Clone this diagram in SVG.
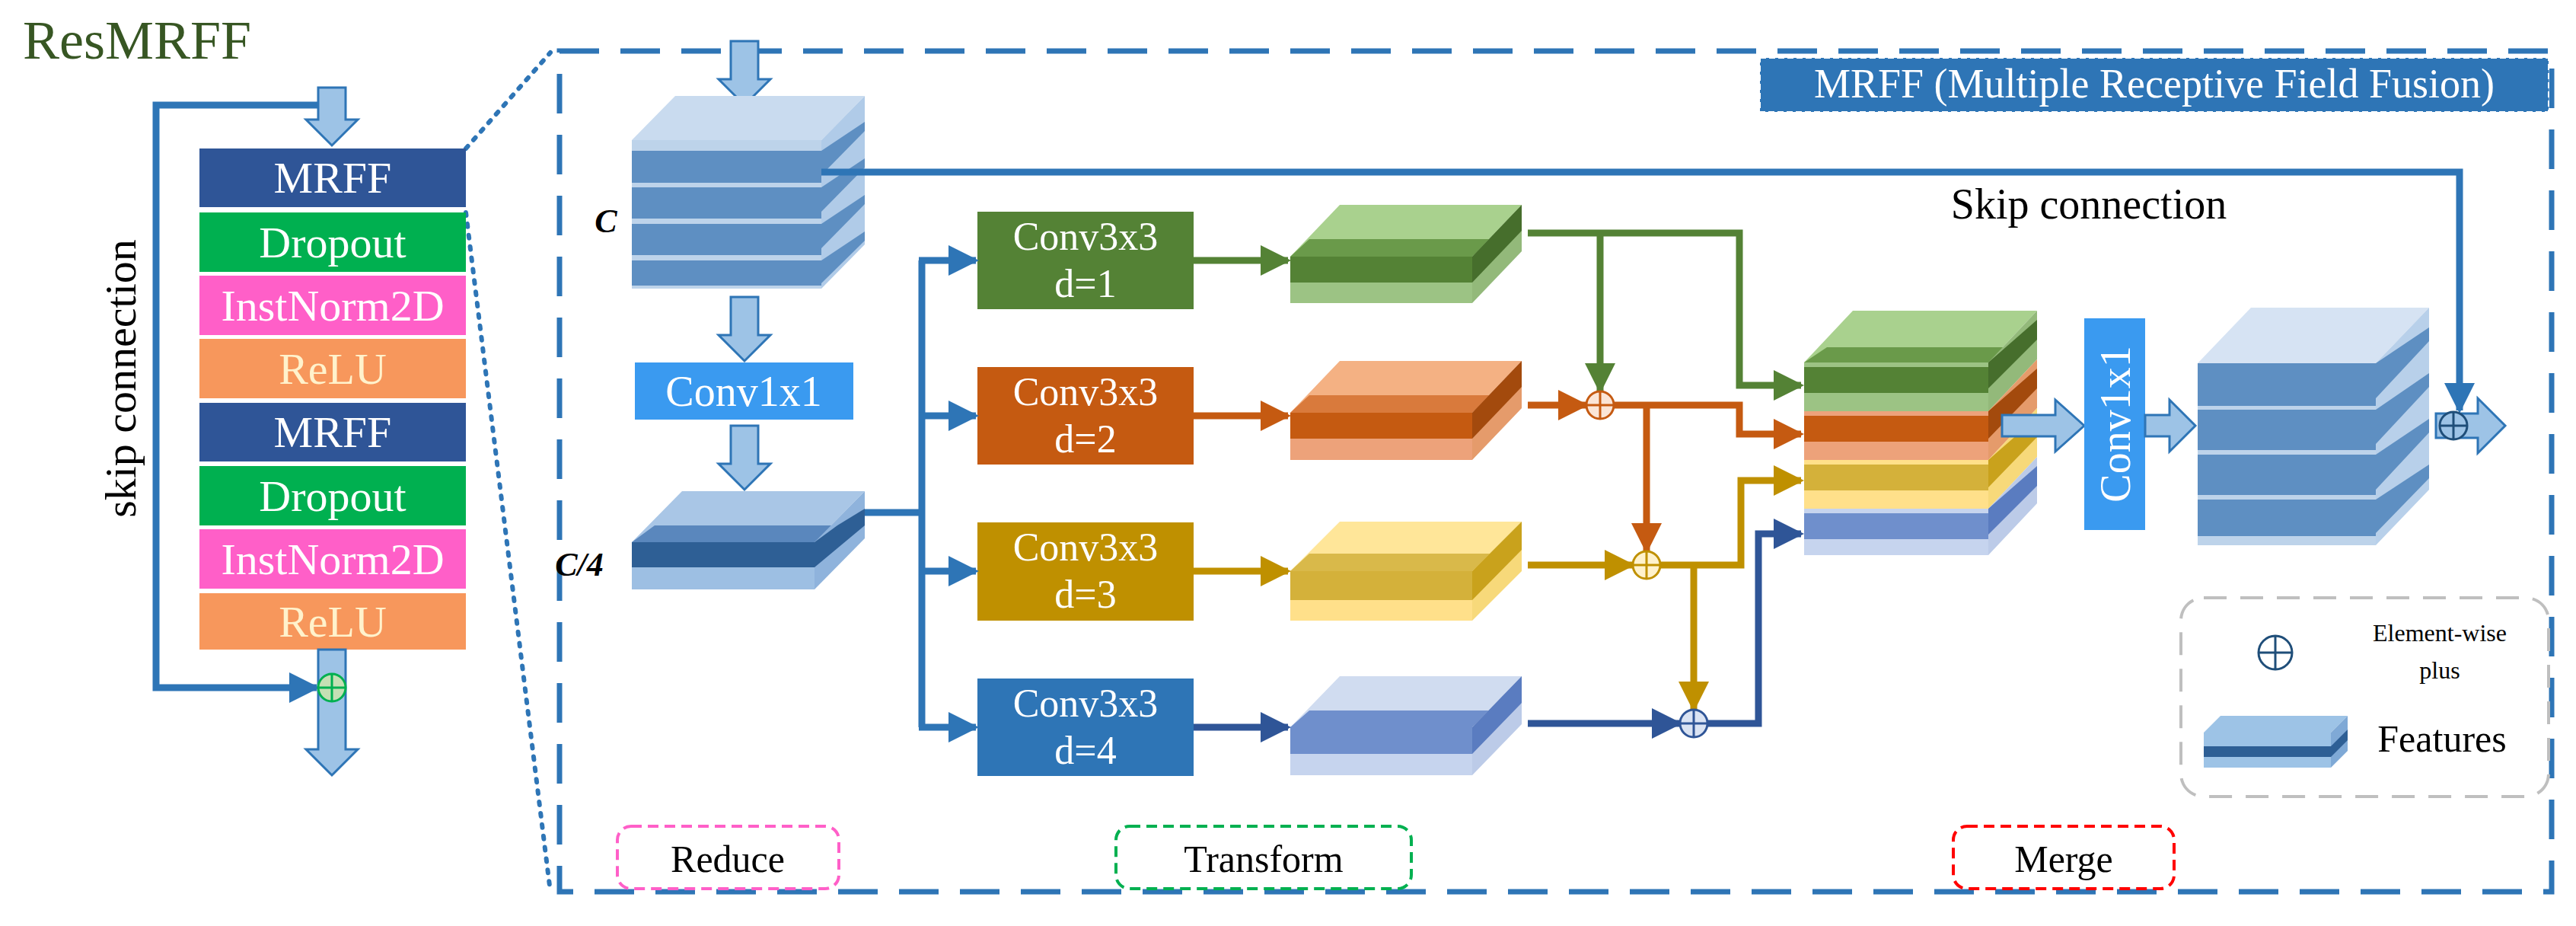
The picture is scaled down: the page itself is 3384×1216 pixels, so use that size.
<svg xmlns="http://www.w3.org/2000/svg" width="3384" height="1216" viewBox="0 0 3384 1216">
<style>
text{font-family:"Liberation Serif","Times New Roman",serif}
.w{fill:#fff;font-size:58px;text-anchor:middle}
.cw{fill:#fff;font-size:56px;text-anchor:middle}
.c3{fill:#fff;font-size:52px;text-anchor:middle}
.k{fill:#000;text-anchor:middle}
.ba{fill:#9dc3e6;stroke:#2e75b6;stroke-width:3;stroke-linejoin:miter}
.ln{fill:none;stroke-width:9;stroke-linejoin:miter}
</style>
<defs>
<marker id="mb" viewBox="0 0 10 10" refX="9" refY="5" markerWidth="4.5" markerHeight="5" markerUnits="strokeWidth" orient="auto"><path d="M0,0L10,5L0,10z" fill="#2e75b6"/></marker>
<marker id="mg" viewBox="0 0 10 10" refX="9" refY="5" markerWidth="4.5" markerHeight="5" markerUnits="strokeWidth" orient="auto"><path d="M0,0L10,5L0,10z" fill="#548235"/></marker>
<marker id="mo" viewBox="0 0 10 10" refX="9" refY="5" markerWidth="4.5" markerHeight="5" markerUnits="strokeWidth" orient="auto"><path d="M0,0L10,5L0,10z" fill="#c55a11"/></marker>
<marker id="my" viewBox="0 0 10 10" refX="9" refY="5" markerWidth="4.5" markerHeight="5" markerUnits="strokeWidth" orient="auto"><path d="M0,0L10,5L0,10z" fill="#bf9000"/></marker>
<marker id="mn" viewBox="0 0 10 10" refX="9" refY="5" markerWidth="4.5" markerHeight="5" markerUnits="strokeWidth" orient="auto"><path d="M0,0L10,5L0,10z" fill="#2f5597"/></marker>
</defs>
<rect width="3384" height="1216" fill="#fff"/>

<text x="30" y="77" style="font-size:72px;fill:#375623">ResMRFF</text>

<rect x="735" y="67" width="2617" height="1104" fill="none" stroke="#2e75b6" stroke-width="7" stroke-dasharray="52 28"/>
<path d="M612,195L723,69M612,279L723,1171" fill="none" stroke="#2e75b6" stroke-width="6" stroke-dasharray="4 11" stroke-linecap="round"/>

<g id="resmrff">
<rect x="262" y="195" width="350" height="77" fill="#2f5597"/><text class="w" x="437" y="253">MRFF</text>
<rect x="262" y="279" width="350" height="78" fill="#00b050"/><text class="w" x="437" y="338">Dropout</text>
<rect x="262" y="362" width="350" height="78" fill="#ff5fc8"/><text class="w" x="437" y="421">InstNorm2D</text>
<rect x="262" y="445" width="350" height="78" fill="#f7975c"/><text class="w" x="437" y="504" style="fill:#fff2cc">ReLU</text>
<rect x="262" y="529" width="350" height="77" fill="#2f5597"/><text class="w" x="437" y="587">MRFF</text>
<rect x="262" y="612" width="350" height="78" fill="#00b050"/><text class="w" x="437" y="671">Dropout</text>
<rect x="262" y="695" width="350" height="78" fill="#ff5fc8"/><text class="w" x="437" y="754">InstNorm2D</text>
<rect x="262" y="779" width="350" height="74" fill="#f7975c"/><text class="w" x="437" y="836" style="fill:#fff2cc">ReLU</text>
</g>
<path class="ba" d="M418,115H454V157H470L436,191L402,157H418Z"/>
<path class="ba" d="M418,853H454V984H470L436,1018L402,984H418Z"/>
<text class="k" transform="translate(178,497) rotate(-90)" style="font-size:58px">skip connection</text>

<g id="title">
<rect x="2312" y="76" width="1036" height="71" fill="#2e75b6" stroke="#fff" stroke-width="2" stroke-dasharray="8 4"/>
<text x="2830" y="128" style="font-size:54px;fill:#fff;text-anchor:middle">MRFF (Multiple Receptive Field Fusion)</text>
</g>

<path class="ba" d="M960,54H996V104H1012L978,138L944,104H960Z"/>

<g id="cubeC">
<polygon points="830,184 887,126 1136,126 1079,184" fill="#c9dbef"/>
<polygon points="1079,184 1136,126 1136,321 1079,379" fill="#b0cbe8"/>
<rect x="830" y="184" width="249" height="195" fill="#bdd3ea"/>
<g fill="#5e8fc2">
<rect x="830" y="198" width="249" height="42"/><rect x="830" y="246" width="249" height="41"/>
<rect x="830" y="294" width="249" height="41"/><rect x="830" y="342" width="249" height="33"/>
<polygon points="1079,198 1136,160 1136,172 1079,230"/><polygon points="1079,246 1136,208 1136,220 1079,278"/>
<polygon points="1079,294 1136,256 1136,268 1079,326"/><polygon points="1079,342 1136,304 1136,316 1079,372"/>
</g>
<text x="796" y="305" style="font-size:44px;font-weight:bold;font-style:italic;text-anchor:middle">C</text>
</g>
<path class="ba" d="M960,390H996V440H1012L978,474L944,440H960Z"/>
<g id="conv1">
<rect x="834" y="476" width="287" height="75" fill="#3a9af0"/>
<text class="cw" x="977" y="533">Conv1x1</text>
</g>
<path class="ba" d="M960,559H996V609H1012L978,643L944,609H960Z"/>
<g id="cubeC4">
<polygon points="830,712 896,645 1136,645 1070,712" fill="#a9c6e6"/>
<polygon points="830,712 860,690 1100,690 1070,712" fill="#5a87bd"/>
<polygon points="1070,712 1136,645 1136,707 1070,774" fill="#8fb3dc"/>
<polygon points="1070,712 1100,690 1136,668 1136,690 1070,745" fill="#2e5f95"/>
<rect x="830" y="712" width="240" height="62" fill="#9dbfe3"/>
<rect x="830" y="712" width="240" height="33" fill="#2e5f95"/>
<text x="761" y="756" style="font-size:44px;font-weight:bold;font-style:italic;text-anchor:middle">C/4</text>
</g>

<g id="conv_d1"><rect x="1284" y="278" width="284" height="128" fill="#548235"/><text class="c3" x="1426" y="328">Conv3x3</text><text class="c3" x="1426" y="390">d=1</text></g>
<g id="conv_d2"><rect x="1284" y="482" width="284" height="128" fill="#c55a11"/><text class="c3" x="1426" y="532">Conv3x3</text><text class="c3" x="1426" y="594">d=2</text></g>
<g id="conv_d3"><rect x="1284" y="686" width="284" height="129" fill="#bf9000"/><text class="c3" x="1426" y="736">Conv3x3</text><text class="c3" x="1426" y="798">d=3</text></g>
<g id="conv_d4"><rect x="1284" y="891" width="284" height="128" fill="#2e75b6"/><text class="c3" x="1426" y="941">Conv3x3</text><text class="c3" x="1426" y="1003">d=4</text></g>

<g id="slab1">
<polygon points="1695,337 1760,269 1999,269 1934,337" fill="#a9d18e"/>
<polygon points="1695,337 1720,314 1959,314 1934,337" fill="#6a9a4a"/>
<polygon points="1934,337 1999,269 1999,330 1934,398" fill="#93b97a"/>
<polygon points="1934,337 1999,269 1999,303 1934,371" fill="#466e2c"/>
<rect x="1695" y="337" width="239" height="61" fill="#9cc384"/>
<rect x="1695" y="337" width="239" height="34" fill="#548235"/>
</g>
<g id="slab2">
<polygon points="1695,542 1760,474 1999,474 1934,542" fill="#f4b183"/>
<polygon points="1695,542 1720,519 1959,519 1934,542" fill="#d97a3c"/>
<polygon points="1934,542 1999,474 1999,536 1934,604" fill="#e59b6b"/>
<polygon points="1934,542 1999,474 1999,508 1934,576" fill="#a34a0d"/>
<rect x="1695" y="542" width="239" height="62" fill="#eda27a"/>
<rect x="1695" y="542" width="239" height="34" fill="#c55a11"/>
</g>
<g id="slab3">
<polygon points="1695,750 1760,685 1999,685 1934,750" fill="#ffe699"/>
<polygon points="1695,750 1720,727 1959,727 1934,750" fill="#d9b94a"/>
<polygon points="1934,750 1999,685 1999,750 1934,815" fill="#f7d97a"/>
<polygon points="1934,750 1999,685 1999,722 1934,788" fill="#c9a21c"/>
<rect x="1695" y="750" width="239" height="65" fill="#ffe08a"/>
<rect x="1695" y="750" width="239" height="38" fill="#d4b13a"/>
</g>
<g id="slab4">
<polygon points="1695,955 1760,888 1999,888 1934,955" fill="#d0dcf0"/>
<polygon points="1695,955 1720,933 1959,933 1934,955" fill="#6f8fcc"/>
<polygon points="1934,955 1999,888 1999,951 1934,1018" fill="#bccbe8"/>
<polygon points="1934,955 1999,888 1999,923 1934,990" fill="#5a7cc0"/>
<rect x="1695" y="955" width="239" height="63" fill="#c6d4ee"/>
<rect x="1695" y="955" width="239" height="35" fill="#6f8fcc"/>
</g>

<g id="merge_stack">
<polygon points="2370,476 2434,408 2676,408 2612,476" fill="#a9d18e"/>
<polygon points="2370,476 2400,456 2642,456 2612,476" fill="#6a9a4a"/>
<polygon points="2612,476 2676,408 2676,472 2612,540" fill="#93b97a"/>
<polygon points="2612,476 2676,420 2676,446 2612,510" fill="#466e2c"/>
<rect x="2370" y="476" width="242" height="64" fill="#9cc384"/><rect x="2370" y="482" width="242" height="34" fill="#548235"/>
<polygon points="2612,540 2676,472 2676,536 2612,604" fill="#e59b6b"/>
<polygon points="2612,540 2676,484 2676,510 2612,576" fill="#a34a0d"/>
<rect x="2370" y="540" width="242" height="64" fill="#eda27a"/><rect x="2370" y="546" width="242" height="34" fill="#c55a11"/>
<polygon points="2612,604 2676,536 2676,600 2612,668" fill="#f7d97a"/>
<polygon points="2612,604 2676,548 2676,574 2612,640" fill="#c9a21c"/>
<rect x="2370" y="604" width="242" height="64" fill="#ffe08a"/><rect x="2370" y="610" width="242" height="34" fill="#d4b13a"/>
<polygon points="2612,668 2676,600 2676,661 2612,729" fill="#bccbe8"/>
<polygon points="2612,668 2676,612 2676,638 2612,702" fill="#5a7cc0"/>
<rect x="2370" y="668" width="242" height="61" fill="#c6d4ee"/><rect x="2370" y="674" width="242" height="34" fill="#6f8fcc"/>
</g>
<path class="ba" d="M2630,545H2700V525L2738,559L2700,593V573H2630Z"/>
<g id="conv2">
<rect x="2738" y="418" width="80" height="278" fill="#3a9af0"/>
<text class="cw" transform="translate(2798,557) rotate(-90)">Conv1x1</text>
</g>
<path class="ba" d="M2818,545H2850V525L2884,559L2850,593V573H2818Z"/>
<g id="cubeOut">
<polygon points="2887,477 2957,404 3191,404 3121,477" fill="#d6e3f3"/>
<polygon points="3121,477 3191,404 3191,643 3121,716" fill="#b8d0ea"/>
<rect x="2887" y="477" width="234" height="239" fill="#bdd3ea"/>
<g fill="#5e8fc2">
<rect x="2887" y="477" width="234" height="56"/><rect x="2887" y="538" width="234" height="53"/>
<rect x="2887" y="597" width="234" height="53"/><rect x="2887" y="656" width="234" height="48"/>
<polygon points="3121,477 3191,430 3191,448 3121,523"/><polygon points="3121,538 3191,490 3191,508 3121,583"/>
<polygon points="3121,597 3191,550 3191,568 3121,643"/><polygon points="3121,656 3191,610 3191,628 3121,700"/>
</g>
</g>
<path class="ba" d="M3200,543H3255V523L3291,559L3255,595V575H3200Z"/>

<g id="connectors">
<path class="ln" stroke="#2e75b6" d="M1079,226H3231V539" marker-end="url(#mb)"/>
<path class="ln" stroke="#2e75b6" d="M1136,673H1211M1211,342V955"/>
<path class="ln" stroke="#2e75b6" d="M1207,342H1282" marker-end="url(#mb)"/>
<path class="ln" stroke="#2e75b6" d="M1207,546H1282" marker-end="url(#mb)"/>
<path class="ln" stroke="#2e75b6" d="M1207,750H1282" marker-end="url(#mb)"/>
<path class="ln" stroke="#2e75b6" d="M1207,955H1282" marker-end="url(#mb)"/>
<path class="ln" stroke="#2e75b6" d="M417,138H205V903H416" marker-end="url(#mb)"/>
<path class="ln" stroke="#548235" d="M1568,342H1692" marker-end="url(#mg)"/>
<path class="ln" stroke="#c55a11" d="M1568,546H1692" marker-end="url(#mo)"/>
<path class="ln" stroke="#bf9000" d="M1568,750H1692" marker-end="url(#my)"/>
<path class="ln" stroke="#2f5597" d="M1568,955H1692" marker-end="url(#mn)"/>
<path class="ln" stroke="#548235" d="M2007,306H2285V506H2366" marker-end="url(#mg)"/>
<path class="ln" stroke="#548235" d="M2102,306V513" marker-end="url(#mg)"/>
<path class="ln" stroke="#c55a11" d="M2007,532H2083" marker-end="url(#mo)"/>
<path class="ln" stroke="#c55a11" d="M2120,532H2285V570H2366" marker-end="url(#mo)"/>
<path class="ln" stroke="#c55a11" d="M2163,532V723" marker-end="url(#mo)"/>
<path class="ln" stroke="#bf9000" d="M2007,742H2144" marker-end="url(#my)"/>
<path class="ln" stroke="#bf9000" d="M2181,742H2287V631H2366" marker-end="url(#my)"/>
<path class="ln" stroke="#bf9000" d="M2225,742V931" marker-end="url(#my)"/>
<path class="ln" stroke="#2f5597" d="M2007,950H2206" marker-end="url(#mn)"/>
<path class="ln" stroke="#2f5597" d="M2243,950H2310V701H2366" marker-end="url(#mn)"/>
</g>

<g id="plus_res"><circle cx="436" cy="903" r="18" fill="#c5e0b4" stroke="#00b050" stroke-width="3"/><path d="M418,903H454M436,885V921" stroke="#00b050" stroke-width="3"/></g>
<g id="plus_o"><circle cx="2102" cy="532" r="18" fill="#fbe5d6" stroke="#c55a11" stroke-width="3"/><path d="M2084,532H2120M2102,514V550" stroke="#c55a11" stroke-width="3"/></g>
<g id="plus_y"><circle cx="2163" cy="742" r="18" fill="#fff2cc" stroke="#bf9000" stroke-width="3"/><path d="M2145,742H2181M2163,724V760" stroke="#bf9000" stroke-width="3"/></g>
<g id="plus_b"><circle cx="2225" cy="950" r="18" fill="#dae3f3" stroke="#2f5597" stroke-width="3"/><path d="M2207,950H2243M2225,932V968" stroke="#2f5597" stroke-width="3"/></g>
<g id="plus_out"><circle cx="3223" cy="559" r="18" fill="#9dc3e6" stroke="#1f4e79" stroke-width="3"/><path d="M3205,559H3241M3223,541V577" stroke="#1f4e79" stroke-width="3"/></g>

<text class="k" x="2744" y="287" style="font-size:56px">Skip connection</text>

<g id="legend">
<rect x="2865" y="785" width="483" height="261" rx="30" fill="none" stroke="#bfbfbf" stroke-width="4" stroke-dasharray="30 18"/>
<circle cx="2989" cy="857" r="22" fill="#fff" stroke="#1f4e79" stroke-width="3"/><path d="M2967,857H3011M2989,835V879" stroke="#1f4e79" stroke-width="3"/>
<text class="k" x="3205" y="842" style="font-size:32px">Element-wise</text>
<text class="k" x="3205" y="891" style="font-size:32px">plus</text>
<polygon points="2895,962 2917,940 3084,940 3062,962" fill="#9dc3e6"/>
<polygon points="3062,962 3084,940 3084,986 3062,1008" fill="#7fa9d6"/>
<polygon points="3062,980 3084,958 3084,972 3062,994" fill="#2e5f95"/>
<rect x="2895" y="962" width="167" height="46" fill="#9dc3e6"/>
<rect x="2895" y="980" width="167" height="14" fill="#2e5f95"/>
<text class="k" x="3208" y="987" style="font-size:50px">Features</text>
</g>

<g id="reduce"><rect x="811" y="1085" width="291" height="82" rx="18" fill="#fff" stroke="#ff5fc8" stroke-width="4" stroke-dasharray="14 8"/><text class="k" x="956" y="1145" style="font-size:50px">Reduce</text></g>
<g id="transform"><rect x="1466" y="1085" width="388" height="82" rx="18" fill="#fff" stroke="#00b050" stroke-width="4" stroke-dasharray="14 8"/><text class="k" x="1660" y="1145" style="font-size:50px">Transform</text></g>
<g id="merge"><rect x="2566" y="1085" width="290" height="82" rx="18" fill="#fff" stroke="#ff0000" stroke-width="4" stroke-dasharray="14 8"/><text class="k" x="2711" y="1145" style="font-size:50px">Merge</text></g>
</svg>
